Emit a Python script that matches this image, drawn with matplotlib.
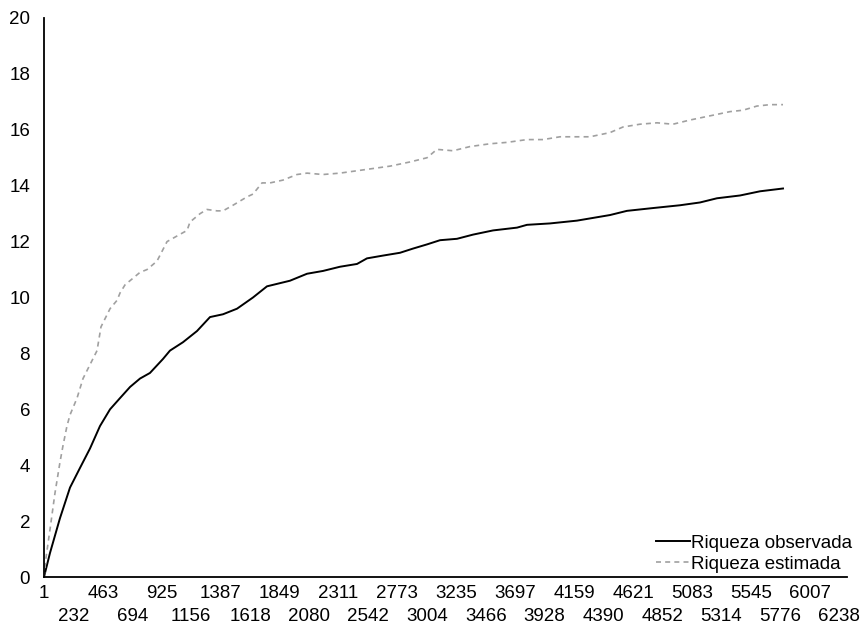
import matplotlib
matplotlib.use("Agg")
import matplotlib.pyplot as plt

plt.rcParams['font.family'] = ['Liberation Sans', 'DejaVu Sans']

# Observed richness (black solid)
obs_x = [1, 48, 126, 205, 283, 362, 440, 519, 597, 676, 754, 832, 934, 989, 1091,
         1201, 1303, 1405, 1515, 1640, 1750, 1930, 2064, 2189, 2322, 2456, 2534,
         2660, 2793, 2895, 3005, 3107, 3240, 3366, 3523, 3711, 3789, 3969, 4181,
         4440, 4573, 4777, 4989, 5146, 5279, 5460, 5617, 5797]
obs_y = [0, 0.86, 2.1, 3.2, 3.9, 4.6, 5.4, 6.0, 6.4, 6.8, 7.1, 7.3, 7.8, 8.1, 8.4,
         8.8, 9.3, 9.4, 9.6, 10.0, 10.4, 10.6, 10.85, 10.95, 11.1, 11.2, 11.4,
         11.5, 11.6, 11.75, 11.9, 12.05, 12.1, 12.25, 12.4, 12.5, 12.6, 12.65, 12.75,
         12.95, 13.1, 13.2, 13.3, 13.4, 13.55, 13.65, 13.8, 13.9]

# Estimated richness (grey dashed)
est_x = [1, 17, 48, 87, 126, 150, 181, 205, 260, 307, 362, 417, 448, 519, 574,
         597, 636, 754, 809, 887, 966, 1044, 1123, 1146, 1225, 1279, 1358, 1405,
         1483, 1593, 1640, 1711, 1774, 1875, 1985, 2064, 2189, 2322, 2401, 2558,
         2715, 2872, 3005, 3083, 3209, 3342, 3499, 3632, 3789, 3915, 4048, 4205,
         4283, 4440, 4542, 4675, 4809, 4934, 5068, 5225, 5381, 5483, 5593, 5695, 5797]
est_y = [0, 0.7, 1.7, 3.0, 4.1, 4.7, 5.4, 5.8, 6.4, 7.1, 7.6, 8.1, 8.95, 9.6, 9.9,
         10.16, 10.45, 10.9, 11.0, 11.3, 12.0, 12.2, 12.4, 12.7, 13.0, 13.15, 13.1, 13.1,
         13.3, 13.6, 13.7, 14.1, 14.1, 14.2, 14.4, 14.45, 14.4, 14.45, 14.5, 14.6,
         14.7, 14.85, 15.0, 15.3, 15.25, 15.4, 15.5, 15.55, 15.65, 15.65, 15.75, 15.75,
         15.75, 15.9, 16.1, 16.2, 16.25, 16.2, 16.35, 16.5, 16.65, 16.7, 16.85, 16.9, 16.9]

x_ticks = [1, 232, 463, 694, 925, 1156, 1387, 1618, 1849, 2080, 2311, 2542, 2773,
           3004, 3235, 3466, 3697, 3928, 4159, 4390, 4621, 4852, 5083, 5314, 5545,
           5776, 6007, 6238]
y_ticks = [0, 2, 4, 6, 8, 10, 12, 14, 16, 18, 20]

FS = 13.5

fig = plt.figure(figsize=(8.67, 6.29), dpi=100)
ax = fig.add_axes([44/867, 1-577/629, (847-44)/867, (577-18)/629])

ax.plot(obs_x, obs_y, color='black', lw=1.4, label='Riqueza observada')
ax.plot(est_x, est_y, color='#a0a0a0', lw=1.2, dashes=(3, 2.5), label='Riqueza estimada')

ax.set_xlim(1, 6299)
ax.set_ylim(0, 20)
ax.set_yticks(y_ticks)
ax.set_yticklabels([str(v) for v in y_ticks])

top_row = x_ticks[0::2]
bottom_row = x_ticks[1::2]
ax.set_xticks(top_row)
ax.set_xticklabels([str(v) for v in top_row])
ax.set_xticks(bottom_row, minor=True)
ax.set_xticklabels([str(v) for v in bottom_row], minor=True)

ax.tick_params(axis='both', which='both', length=0, labelsize=FS, colors='black')
ax.tick_params(axis='y', pad=10)
ax.tick_params(axis='x', which='major', pad=6)
ax.tick_params(axis='x', which='minor', pad=22)

for s in ['top', 'right']:
    ax.spines[s].set_visible(False)
for s in ['left', 'bottom']:
    ax.spines[s].set_linewidth(1.3)
    ax.spines[s].set_color('black')

leg = ax.legend(loc='lower right', bbox_to_anchor=(852/867, 1-573/629),
                bbox_transform=fig.transFigure, frameon=False, fontsize=FS,
                handlelength=1.8, handletextpad=0.05, labelspacing=0.22,
                borderpad=0, borderaxespad=0)

fig.savefig('out.png', dpi=100)
